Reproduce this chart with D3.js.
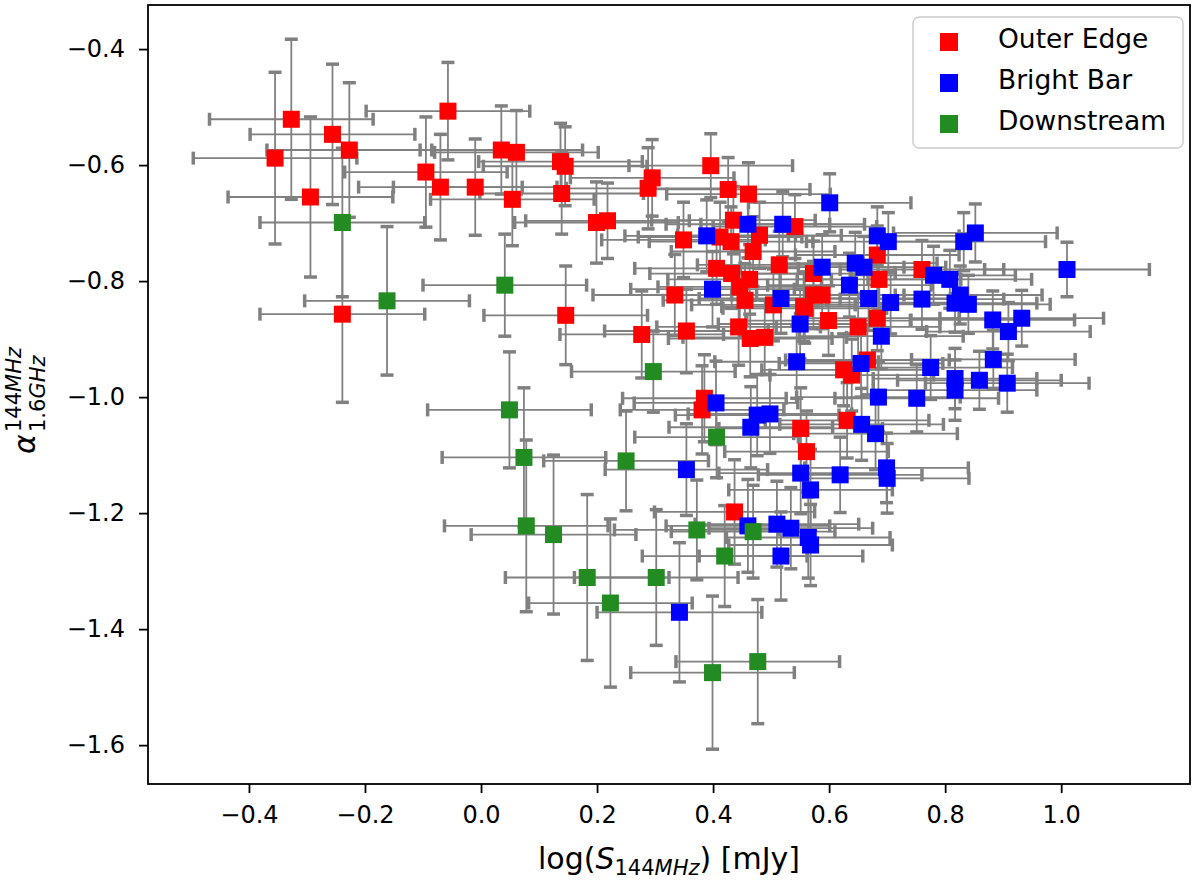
<!DOCTYPE html>
<html>
<head>
<meta charset="utf-8">
<script src="https://cdn.jsdelivr.net/npm/d3@7"></script>
<style>
  body { margin: 0; background: #fff; }
  text { font-family: "DejaVu Sans", sans-serif; fill: #000; }
</style>
</head>
<body>
<script>
// [x, y, xerr, yerr]
const outerEdge = [
  [-0.355, -0.588, 0.141, 0.148], [-0.327, -0.521, 0.141, 0.138], [-0.256, -0.547, 0.142, 0.121],
  [-0.227, -0.574, 0.142, 0.116], [-0.294, -0.655, 0.142, 0.138], [-0.239, -0.857, 0.142, 0.152],
  [-0.095, -0.612, 0.140, 0.095], [-0.070, -0.638, 0.141, 0.091], [-0.057, -0.507, 0.141, 0.084],
  [-0.010, -0.638, 0.141, 0.083], [0.035, -0.574, 0.140, 0.076], [0.061, -0.578, 0.141, 0.072],
  [0.054, -0.659, 0.141, 0.080], [0.137, -0.594, 0.141, 0.066], [0.145, -0.602, 0.141, 0.068],
  [0.139, -0.649, 0.141, 0.070], [0.146, -0.859, 0.141, 0.085], [0.199, -0.699, 0.141, 0.070],
  [0.218, -0.696, 0.141, 0.065], [0.295, -0.622, 0.141, 0.066], [0.288, -0.640, 0.141, 0.070],
  [0.277, -0.892, 0.141, 0.075], [0.396, -0.601, 0.141, 0.055], [0.426, -0.642, 0.141, 0.055],
  [0.461, -0.650, 0.141, 0.054], [0.435, -0.695, 0.141, 0.058], [0.412, -0.724, 0.141, 0.060],
  [0.431, -0.732, 0.141, 0.060], [0.480, -0.721, 0.141, 0.057], [0.349, -0.729, 0.141, 0.065],
  [0.469, -0.749, 0.141, 0.060], [0.541, -0.706, 0.141, 0.055], [0.683, -0.755, 0.141, 0.050],
  [0.334, -0.824, 0.141, 0.070], [0.406, -0.778, 0.141, 0.062], [0.432, -0.787, 0.141, 0.060],
  [0.463, -0.797, 0.141, 0.060], [0.446, -0.810, 0.141, 0.062], [0.455, -0.833, 0.141, 0.063],
  [0.514, -0.772, 0.141, 0.058], [0.573, -0.787, 0.141, 0.056], [0.686, -0.797, 0.141, 0.052],
  [0.504, -0.841, 0.141, 0.062], [0.573, -0.824, 0.141, 0.058], [0.588, -0.824, 0.141, 0.058],
  [0.556, -0.844, 0.141, 0.060], [0.760, -0.780, 0.141, 0.050], [0.354, -0.886, 0.141, 0.072],
  [0.444, -0.879, 0.141, 0.066], [0.464, -0.899, 0.141, 0.066], [0.489, -0.897, 0.141, 0.064],
  [0.558, -0.847, 0.141, 0.060], [0.599, -0.868, 0.141, 0.060], [0.650, -0.879, 0.141, 0.058],
  [0.683, -0.864, 0.141, 0.056], [0.625, -0.953, 0.141, 0.062], [0.639, -0.962, 0.141, 0.062],
  [0.666, -0.936, 0.141, 0.060], [0.385, -1.002, 0.141, 0.075], [0.381, -1.022, 0.141, 0.076],
  [0.631, -1.040, 0.141, 0.065], [0.551, -1.054, 0.141, 0.070], [0.561, -1.094, 0.141, 0.070],
  [0.437, -1.198, 0.138, 0.090]
];

const brightBar = [
  [0.389, -0.722, 0.141, 0.062], [0.399, -0.814, 0.141, 0.065], [0.405, -1.010, 0.141, 0.072],
  [0.460, -0.702, 0.141, 0.058], [0.520, -0.702, 0.141, 0.056], [0.601, -0.665, 0.140, 0.050],
  [0.517, -0.830, 0.141, 0.060], [0.588, -0.776, 0.141, 0.056], [0.645, -0.769, 0.141, 0.053],
  [0.660, -0.776, 0.141, 0.053], [0.635, -0.807, 0.141, 0.055], [0.683, -0.722, 0.141, 0.050],
  [0.702, -0.732, 0.141, 0.050], [0.668, -0.830, 0.141, 0.055], [0.706, -0.837, 0.141, 0.054],
  [0.550, -0.874, 0.141, 0.060], [0.690, -0.895, 0.141, 0.056], [0.544, -0.939, 0.141, 0.063],
  [0.655, -0.942, 0.141, 0.058], [0.476, -1.031, 0.141, 0.070], [0.498, -1.029, 0.141, 0.068],
  [0.465, -1.052, 0.141, 0.070], [0.656, -1.047, 0.141, 0.062], [0.680, -1.063, 0.141, 0.062],
  [0.685, -1.000, 0.141, 0.060], [0.751, -1.002, 0.141, 0.058], [0.775, -0.949, 0.141, 0.055],
  [0.817, -0.968, 0.141, 0.052], [0.817, -0.988, 0.141, 0.052], [0.859, -0.971, 0.141, 0.050],
  [0.907, -0.976, 0.141, 0.050], [0.883, -0.935, 0.141, 0.050], [0.760, -0.831, 0.141, 0.052],
  [0.780, -0.790, 0.141, 0.050], [0.808, -0.797, 0.141, 0.050], [0.826, -0.824, 0.141, 0.050],
  [0.840, -0.840, 0.141, 0.050], [0.817, -0.838, 0.141, 0.050], [0.882, -0.867, 0.141, 0.050],
  [0.932, -0.864, 0.141, 0.048], [0.909, -0.887, 0.141, 0.050], [0.852, -0.717, 0.141, 0.050],
  [0.832, -0.732, 0.141, 0.050], [1.010, -0.780, 0.142, 0.047], [0.551, -1.131, 0.141, 0.070],
  [0.568, -1.160, 0.141, 0.070], [0.619, -1.134, 0.141, 0.065], [0.699, -1.122, 0.141, 0.060],
  [0.700, -1.140, 0.141, 0.060], [0.354, -1.125, 0.140, 0.079], [0.342, -1.371, 0.142, 0.120],
  [0.460, -1.222, 0.141, 0.080], [0.510, -1.219, 0.141, 0.074], [0.534, -1.226, 0.141, 0.070],
  [0.564, -1.242, 0.141, 0.070], [0.568, -1.255, 0.141, 0.070], [0.517, -1.274, 0.141, 0.076]
];

const downstream = [
  [-0.239, -0.699, 0.142, 0.128], [-0.162, -0.834, 0.142, 0.128], [0.041, -0.807, 0.141, 0.088],
  [0.049, -1.022, 0.141, 0.100], [0.074, -1.104, 0.141, 0.120], [0.078, -1.222, 0.141, 0.148],
  [0.125, -1.237, 0.142, 0.137], [0.183, -1.311, 0.141, 0.143], [0.223, -1.355, 0.141, 0.145],
  [0.250, -1.110, 0.142, 0.086], [0.302, -1.311, 0.141, 0.117], [0.297, -0.956, 0.141, 0.070],
  [0.406, -1.069, 0.141, 0.070], [0.372, -1.229, 0.142, 0.086], [0.420, -1.274, 0.142, 0.087],
  [0.469, -1.232, 0.141, 0.080], [0.399, -1.475, 0.141, 0.132], [0.477, -1.456, 0.141, 0.107]
];

const seriesNames = ['Outer Edge', 'Bright Bar', 'Downstream'];
const seriesColors = ['#ff0000', '#0000ff', '#228b22'];
const xTicks = [-0.4, -0.2, 0.0, 0.2, 0.4, 0.6, 0.8, 1.0];
const yTicks = [-1.6, -1.4, -1.2, -1.0, -0.8, -0.6, -0.4];

const W = 1200, H = 880;
const margin = { top: 5, right: 10, bottom: 96, left: 148 };
const width = W - margin.left - margin.right;
const height = H - margin.top - margin.bottom;

const svg = d3.select('body').append('svg')
  .attr('width', W)
  .attr('height', H);

const g = svg.append('g').attr('transform', `translate(${margin.left},${margin.top})`);

const x = d3.scaleLinear().domain([-0.574, 1.222]).range([0, width]);
const y = d3.scaleLinear().domain([-1.667, -0.324]).range([height, 0]);

const fmt = d3.format('.1f');

// axes
const xAxis = g.append('g')
  .attr('transform', `translate(0,${height})`)
  .call(d3.axisBottom(x).tickValues(xTicks).tickFormat(fmt).tickSize(9).tickPadding(13).tickSizeOuter(0));
const yAxis = g.append('g')
  .call(d3.axisLeft(y).tickValues(yTicks).tickFormat(fmt).tickSize(9).tickPadding(14).tickSizeOuter(0));

[xAxis, yAxis].forEach(a => {
  a.select('.domain').remove();
  a.selectAll('.tick line').attr('stroke', '#000').attr('stroke-width', 1.8);
  a.selectAll('.tick text').attr('font-size', 24).attr('font-family', 'DejaVu Sans');
});

const allSeries = [outerEdge, brightBar, downstream];

// error bars under every marker
const cap = 6.5;
const eb = g.append('g').attr('stroke', '#808080').attr('fill', 'none');
allSeries.forEach(data => {
  data.forEach(d => {
    const [px, py, xe, ye] = d;
    const x0 = x(px - xe), x1 = x(px + xe), y0 = y(py + ye), y1 = y(py - ye);
    const cx = x(px), cy = y(py);
    eb.append('line').attr('x1', x0).attr('x2', x1).attr('y1', cy).attr('y2', cy).attr('stroke-width', 1.8);
    eb.append('line').attr('x1', cx).attr('x2', cx).attr('y1', y0).attr('y2', y1).attr('stroke-width', 1.8);
    [x0, x1].forEach(xx => eb.append('line')
      .attr('x1', xx).attr('x2', xx).attr('y1', cy - cap).attr('y2', cy + cap).attr('stroke-width', 3.5));
    [y0, y1].forEach(yy => eb.append('line')
      .attr('x1', cx - cap).attr('x2', cx + cap).attr('y1', yy).attr('y2', yy).attr('stroke-width', 3.5));
  });
});

// markers
const ms = 17;
allSeries.forEach((data, i) => {
  g.append('g').selectAll('rect')
    .data(data)
    .join('rect')
    .attr('x', d => x(d[0]) - ms / 2)
    .attr('y', d => y(d[1]) - ms / 2)
    .attr('width', ms)
    .attr('height', ms)
    .attr('fill', seriesColors[i]);
});

// frame
g.append('rect')
  .attr('width', width).attr('height', height)
  .attr('fill', 'none').attr('stroke', '#000').attr('stroke-width', 1.8);

// legend
const lg = svg.append('g');
lg.append('rect')
  .attr('x', 913).attr('y', 17).attr('width', 270).attr('height', 131).attr('rx', 6)
  .attr('fill', '#fff').attr('fill-opacity', 0.8)
  .attr('stroke', '#cccccc').attr('stroke-width', 1.5);
seriesNames.forEach((name, i) => {
  const cy = 42 + i * 41;
  lg.append('rect')
    .attr('x', 949 - 9).attr('y', cy - 9).attr('width', 18).attr('height', 18)
    .attr('fill', seriesColors[i]);
  lg.append('text')
    .attr('x', 998).attr('y', cy + 6)
    .attr('font-size', 26.5)
    .text(name);
});

// x label
const xl = svg.append('text')
  .attr('x', margin.left + width / 2).attr('y', 869)
  .attr('text-anchor', 'middle').attr('font-size', 30);
xl.append('tspan').text('log(');
xl.append('tspan').attr('font-style', 'italic').text('S');
xl.append('tspan').attr('font-size', 21).attr('dy', 6).text('144');
xl.append('tspan').attr('font-size', 21).attr('font-style', 'italic').text('MHz');
xl.append('tspan').attr('dy', -6).text(') [mJy]');

// y label
const yl = svg.append('g').attr('transform', 'translate(35,454) rotate(-90)');
yl.append('text').attr('x', 0).attr('y', 0).attr('font-size', 30).attr('font-style', 'italic').text('α');
const sub = yl.append('text').attr('x', 22).attr('y', 10).attr('font-size', 21);
sub.append('tspan').text('1.6');
sub.append('tspan').attr('font-style', 'italic').text('GHz');
const sup = yl.append('text').attr('x', 22).attr('y', -14).attr('font-size', 21);
sup.append('tspan').text('144');
sup.append('tspan').attr('font-style', 'italic').text('MHz');
</script>
</body>
</html>
